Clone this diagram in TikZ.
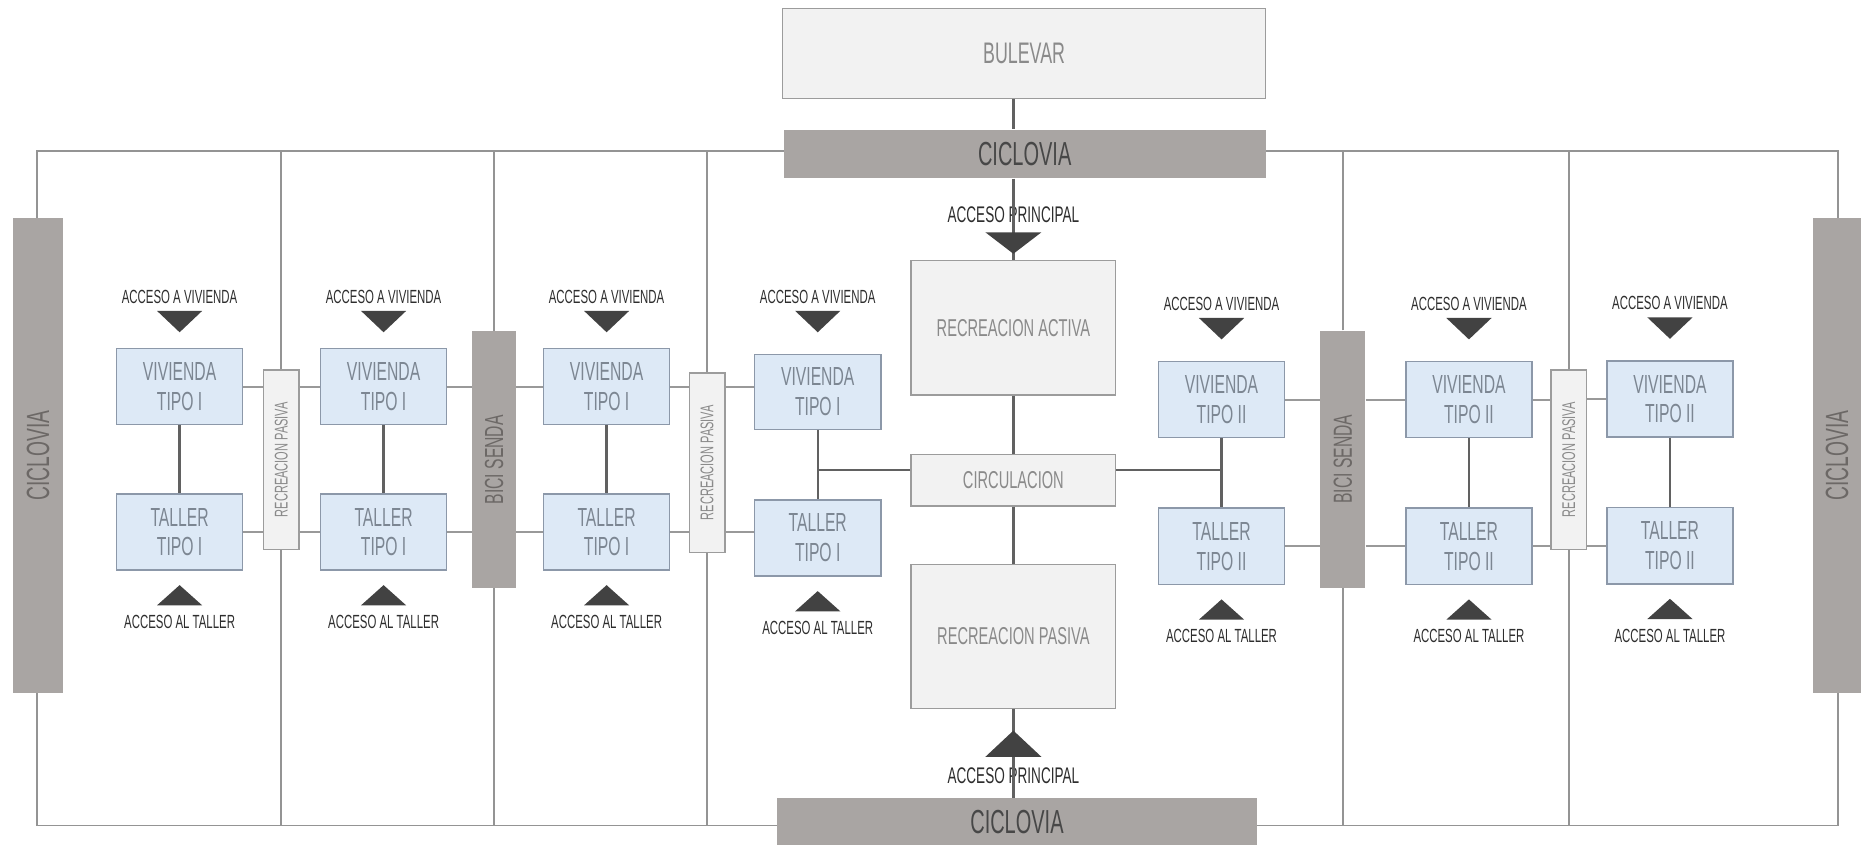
\documentclass[tikz,border=0pt]{standalone}
\usepackage{fontspec}
\setmainfont{Liberation Sans}[FakeStretch=0.6]
\usepackage[dvipsnames]{xcolor}
\usepackage{graphicx}
\usepackage{tikz}
\usetikzlibrary{positioning}

\definecolor{azulcaja}{HTML}{DDE9F6}
\definecolor{bordeazul}{HTML}{8C98A9}
\definecolor{textocaja}{HTML}{7C8692}
\definecolor{grisclaro}{HTML}{F2F2F2}
\definecolor{bordegris}{HTML}{9C9C9C}
\definecolor{textogris}{HTML}{8A8A8A}
\definecolor{grisbarra}{HTML}{A9A5A3}
\definecolor{textobarra}{HTML}{6C6866}

\tikzset{
  caja/.style = {
    rectangle,
    minimum width=106pt,
    minimum height=64pt,
    inner sep=0pt,
    align=center,
    draw=bordeazul,
    fill=azulcaja,
    text=textocaja,
    line width=1.3pt,
    font=\fontsize{22}{25}\selectfont
  },
  zona/.style = {
    rectangle,
    minimum width=172pt,
    inner sep=0pt,
    draw=bordegris,
    fill=grisclaro,
    text=textogris,
    line width=1.3pt,
    font=\fontsize{20.5}{24}\selectfont
  },
  barra_h/.style = {
    rectangle,
    minimum width=405pt,
    minimum height=41pt,
    inner sep=0pt,
    fill=grisbarra,
    text=black!72,
    font=\fontsize{28}{30}\selectfont
  },
  barra_v/.style = {
    barra_h,
    minimum width=42pt,
    minimum height=400pt,
    text=textobarra,
    font=\fontsize{27}{30}\selectfont
  },
  bici/.style = {
    barra_v,
    minimum width=37pt,
    minimum height=216pt,
    font=\fontsize{22}{24}\selectfont
  },
  pasiva/.style = {
    rectangle,
    minimum width=30pt,
    minimum height=151pt,
    inner sep=0pt,
    draw=bordegris,
    fill=grisclaro,
    text=textogris,
    line width=1.2pt,
    font=\fontsize{15.5}{17}\selectfont
  },
  acceso/.style = {
    inner sep=0pt,
    text=black!82,
    font=\fontsize{16}{18}\selectfont
  },
  principal/.style = {
    acceso,
    font=\fontsize{19}{21}\selectfont
  },
  punta/.style = {
    fill=black!74
  },
  marco/.style = {
    draw=black!42,
    line width=1.6pt
  },
  enlace/.style = {
    draw=black!62,
    line width=2pt
  },
  enlace_suave/.style = {
    draw=black!40,
    line width=1.6pt
  }
}

\begin{document}
\begin{tikzpicture}[
  x=1pt, y=-1pt, % y hacia abajo, como en el plano
  node distance=57pt
]
\useasboundingbox (0,0) rectangle (1568,710);

% ===== Marco exterior =====
\coordinate (no) at (31,127);
\coordinate (se) at (1545,694);
\draw [marco] (no) rectangle (se);

% ===== Bulevar y ciclovias =====
\node (bul) [zona, minimum width=406pt, minimum height=76pt, font=\fontsize{25}{28}\selectfont] at (861,45) {BULEVAR};
\node (cn) [barra_h] at (861.5,129.5) {CICLOVIA};
\node (cs) [barra_h, minimum width=404pt] at (855,691.5) {CICLOVIA};
\node (co) [barra_v] at (32,383) {\rotatebox{90}{CICLOVIA}};
\node (ce) [barra_v, minimum width=41pt] at (1544.5,383) {\rotatebox{90}{CICLOVIA}};

% ===== Eje central =====
\node (ra) [zona, minimum height=113pt] at (852,275.5) {RECREACION ACTIVA};
\node (circ) [zona, minimum height=43pt, below=49pt of ra] {CIRCULACION};
\node (rpc) [zona, minimum height=121pt, below=48pt of circ] {RECREACION PASIVA};

\node (apn) [principal, above=31pt of ra] {ACCESO PRINCIPAL};
\node (aps) [principal, below=49pt of rpc] {ACCESO PRINCIPAL};

\draw [enlace] (ra.north |- bul.south) -- (ra.north |- cn.north);
\draw [enlace] (ra.north |- cn.south) -- (ra.north);   % entra por arriba
\draw [enlace] (ra) -- (circ);
\draw [enlace] (circ) -- (rpc);
\draw [enlace] (rpc.south) -- (rpc.south |- cs.north); % sale por abajo

\fill [punta] (apn.south) ++(-23.5,8) -- ++(47,0) -- ++(-23.5,18) -- cycle;
\fill [punta] (aps.north) ++(-23.5,-9) -- ++(47,0) -- ++(-23.5,-22) -- cycle;

% ===== Franjas intermedias =====
\node (rp1) [pasiva] at (236.5,386.5) {\rotatebox{90}{RECREACION PASIVA}};
\node (bs1) [bici] at (415.5,386.5) {\rotatebox{90}{BICI SENDA}};
\node (rp2) [pasiva] at (594.5,389) {\rotatebox{90}{RECREACION PASIVA}};
\node (bs2) [bici, minimum width=38pt] at (1129,386) {\rotatebox{90}{BICI SENDA}};
\node (rp3) [pasiva] at (1319,386.5) {\rotatebox{90}{RECREACION PASIVA}};

\draw [marco] (rp1.north) -- (rp1.north |- no);
\draw [marco] (rp1.south) -- (rp1.south |- se);
\draw [marco] (bs1.north) -- (bs1.north |- no);
\draw [marco] (bs1.south) -- (bs1.south |- se);
\draw [marco] (rp2.north) -- (rp2.north |- no);
\draw [marco] (rp2.south) -- (rp2.south |- se);
\draw [marco] (bs2.north) -- (bs2.north |- no);
\draw [marco] (bs2.south) -- (bs2.south |- se);
\draw [marco] (rp3.north) -- (rp3.north |- no);
\draw [marco] (rp3.south) -- (rp3.south |- se);

% ===== Columna 1 =====
\node (v1) [caja] at (151,325) {VIVIENDA\\TIPO I};
\node (t1) [caja, below=of v1] {TALLER\\TIPO I};
\node (av1) [acceso, above=37pt of v1] {ACCESO A VIVIENDA};
\node (at1) [acceso, below=37pt of t1] {ACCESO AL TALLER};
\fill [punta] (av1.south) ++(-19,6) -- ++(38,0) -- ++(-19,18) -- cycle;
\fill [punta] (at1.north) ++(-19,-8) -- ++(38,0) -- ++(-19,-17) -- cycle;
\draw [enlace] (v1) -- (t1);

% ===== Columna 2 =====
\node (v2) [caja] at (322.5,325) {VIVIENDA\\TIPO I};
\node (t2) [caja, below=of v2] {TALLER\\TIPO I};
\node (av2) [acceso, above=37pt of v2] {ACCESO A VIVIENDA};
\node (at2) [acceso, below=37pt of t2] {ACCESO AL TALLER};
\fill [punta] (av2.south) ++(-19,6) -- ++(38,0) -- ++(-19,18) -- cycle;
\fill [punta] (at2.north) ++(-19,-8) -- ++(38,0) -- ++(-19,-17) -- cycle;
\draw [enlace] (v2) -- (t2);

% ===== Columna 3 =====
\node (v3) [caja] at (510,325) {VIVIENDA\\TIPO I};
\node (t3) [caja, below=of v3] {TALLER\\TIPO I};
\node (av3) [acceso, above=37pt of v3] {ACCESO A VIVIENDA};
\node (at3) [acceso, below=37pt of t3] {ACCESO AL TALLER};
\fill [punta] (av3.south) ++(-19,6) -- ++(38,0) -- ++(-19,18) -- cycle;
\fill [punta] (at3.north) ++(-19,-8) -- ++(38,0) -- ++(-19,-17) -- cycle;
\draw [enlace] (v3) -- (t3);

% ===== Columna 4 (junto a circulacion) =====
\node (v4) [caja, minimum height=63pt] at (687.5,329.5) {VIVIENDA\\TIPO I};
\node (t4) [caja, below=58pt of v4] {TALLER\\TIPO I};
\node (av4) [acceso, above=42pt of v4] {ACCESO A VIVIENDA};
\node (at4) [acceso, below=37pt of t4] {ACCESO AL TALLER};
\fill [punta] (av4.south) ++(-19,6) -- ++(38,0) -- ++(-19,18) -- cycle;
\fill [punta] (at4.north) ++(-19,-8) -- ++(38,0) -- ++(-19,-17) -- cycle;
\draw [enlace] (v4) -- (t4);

% ===== Columna 5 (junto a circulacion) =====
\node (v5) [caja] at (1027,336) {VIVIENDA\\TIPO II};
\node (t5) [caja, below=58pt of v5] {TALLER\\TIPO II};
\node (av5) [acceso, above=42pt of v5] {ACCESO A VIVIENDA};
\node (at5) [acceso, below=37pt of t5] {ACCESO AL TALLER};
\fill [punta] (av5.south) ++(-19,6) -- ++(38,0) -- ++(-19,18) -- cycle;
\fill [punta] (at5.north) ++(-19,-8) -- ++(38,0) -- ++(-19,-17) -- cycle;
\draw [enlace] (v5) -- (t5);

% ===== Columna 6 =====
\node (v6) [caja] at (1235,336) {VIVIENDA\\TIPO II};
\node (t6) [caja, below=58pt of v6] {TALLER\\TIPO II};
\node (av6) [acceso, above=42pt of v6] {ACCESO A VIVIENDA};
\node (at6) [acceso, below=37pt of t6] {ACCESO AL TALLER};
\fill [punta] (av6.south) ++(-19,6) -- ++(38,0) -- ++(-19,18) -- cycle;
\fill [punta] (at6.north) ++(-19,-8) -- ++(38,0) -- ++(-19,-17) -- cycle;
\draw [enlace] (v6) -- (t6);

% ===== Columna 7 =====
\node (v7) [caja] at (1404,335.5) {VIVIENDA\\TIPO II};
\node (t7) [caja, below=58pt of v7] {TALLER\\TIPO II};
\node (av7) [acceso, above=42pt of v7] {ACCESO A VIVIENDA};
\node (at7) [acceso, below=37pt of t7] {ACCESO AL TALLER};
\fill [punta] (av7.south) ++(-19,6) -- ++(38,0) -- ++(-19,18) -- cycle;
\fill [punta] (at7.north) ++(-19,-8) -- ++(38,0) -- ++(-19,-17) -- cycle;
\draw [enlace] (v7) -- (t7);

% ===== Enlaces horizontales =====
\draw [enlace_suave] (v1.east) -- (v1.east -| rp1.west);
\draw [enlace_suave] (rp1.east |- v2.west) -- (v2.west);
\draw [enlace_suave] (t1.east) -- (t1.east -| rp1.west);
\draw [enlace_suave] (rp1.east |- t2.west) -- (t2.west);

\draw [enlace_suave] (v2.east) -- (v2.east -| bs1.west);
\draw [enlace_suave] (bs1.east |- v3.west) -- (v3.west);
\draw [enlace_suave] (t2.east) -- (t2.east -| bs1.west);
\draw [enlace_suave] (bs1.east |- t3.west) -- (t3.west);

\draw [enlace_suave] (v3.east) -- (v3.east -| rp2.west);
\draw [enlace_suave] (rp2.east |- v3.east) -- (v3.east -| v4.west);
\draw [enlace_suave] (t3.east) -- (t3.east -| rp2.west);
\draw [enlace_suave] (rp2.east |- t3.east) -- (t3.east -| t4.west);

\draw [enlace_suave] (v5.east) -- (v5.east -| bs2.west);
\draw [enlace_suave] (bs2.east |- v6.west) -- (v6.west);
\draw [enlace_suave] (t5.east) -- (t5.east -| bs2.west);
\draw [enlace_suave] (bs2.east |- t6.west) -- (t6.west);

\draw [enlace_suave] (v6.east) -- (v6.east -| rp3.west);
\draw [enlace_suave] (rp3.east |- v7.west) -- (v7.west);
\draw [enlace_suave] (t6.east) -- (t6.east -| rp3.west);
\draw [enlace_suave] (rp3.east |- t7.west) -- (t7.west);

% ===== Circulacion hacia las columnas 4 y 5 =====
\draw [enlace] ([yshift=8.5pt]circ.west) -- ([yshift=8.5pt]circ.west -| v4.south);
\draw [enlace] ([yshift=8.5pt]circ.east) -- ([yshift=8.5pt]circ.east -| v5.south);

\end{tikzpicture}
\end{document}
